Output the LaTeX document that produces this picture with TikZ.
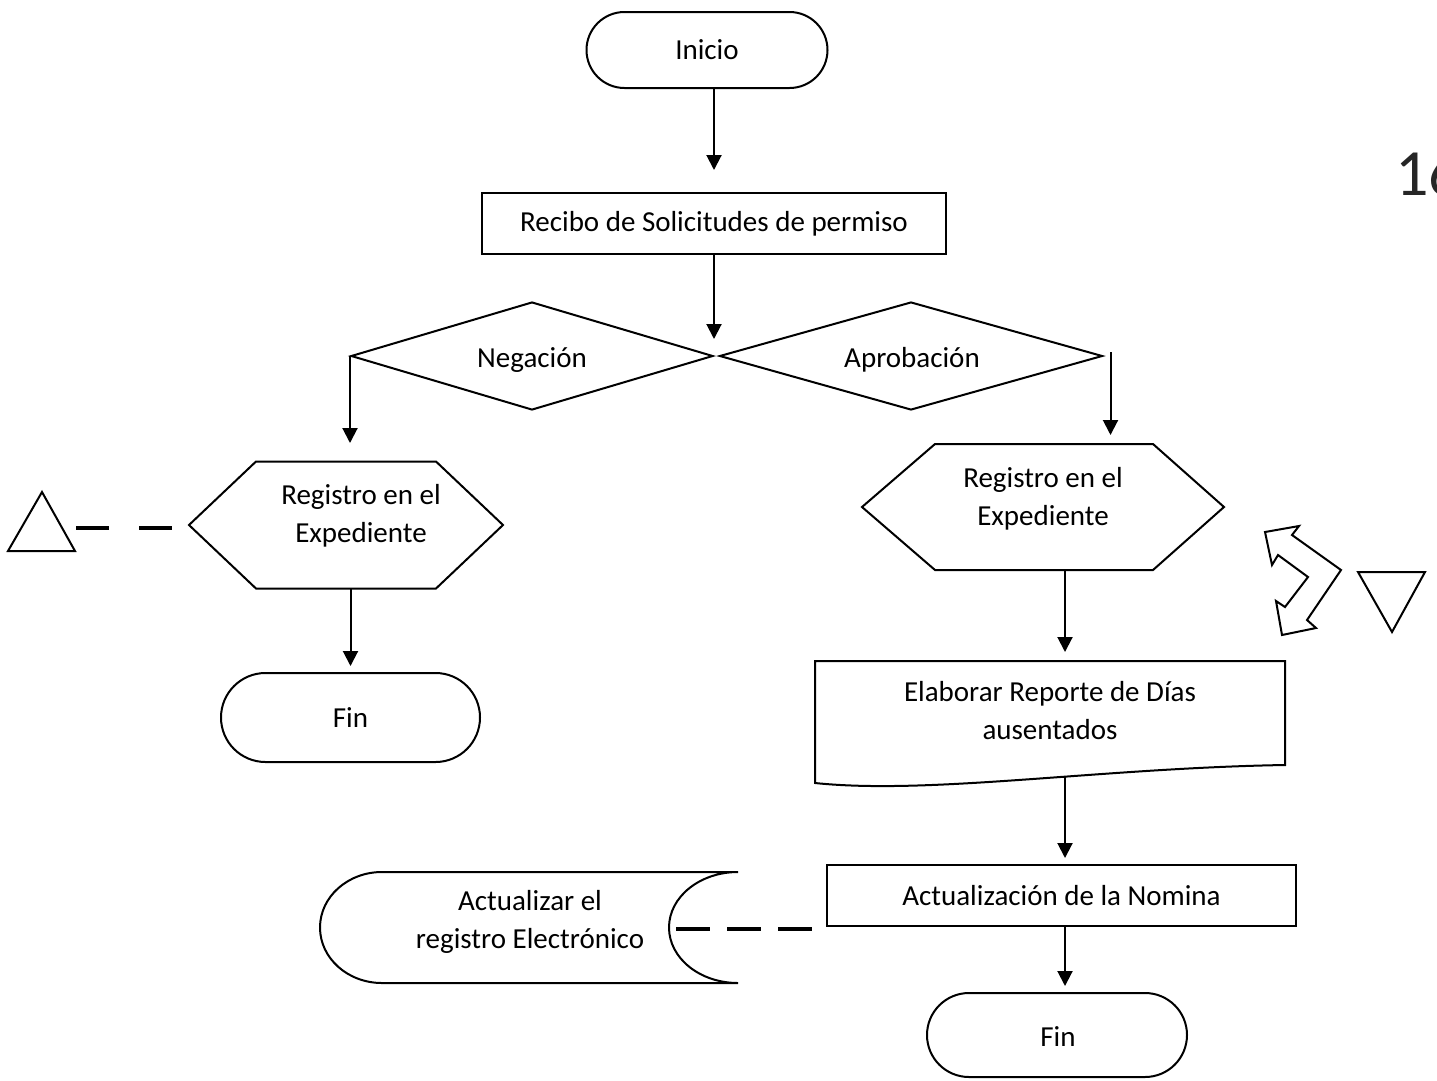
\documentclass[tikz,border=0pt]{standalone}
\usepackage{fontspec}
\setmainfont{Carlito}
\usetikzlibrary{shapes.misc,shapes.geometric,arrows.meta,calc}
\begin{document}
\begin{tikzpicture}[x=1pt,y=-1pt,
  line width=2pt, line join=miter,
  every node/.style={font=\fontsize{29}{38}\selectfont, align=center, inner sep=0pt},
  term/.style={draw, rounded rectangle},
  box/.style={draw, rectangle},
  dia/.style={draw, diamond, aspect=3.4},
  arr/.style={-{Triangle[width=15pt,length=15pt]}, line width=2pt},
  dsh/.style={line width=4pt, dash pattern=on 34pt off 17pt},
  dshL/.style={line width=4pt, dash pattern=on 33pt off 30pt}]
\useasboundingbox (0,0) rectangle (1437,1080);
\fill[white] (0,0) rectangle (1437,1080);

% nodes
\node[term, minimum width=241pt, minimum height=76pt] (inicio) at (707,50) {Inicio};
\node[box, minimum width=464pt, minimum height=61pt] (recibo) at (714,223.5) {Recibo de Solicitudes de permiso};
\node[dia, minimum width=362pt, minimum height=108pt] (neg) at (532,356) {};
\node (negt) at (532,360) {Negación};
\node[dia, minimum width=383pt, minimum height=108pt] (apr) at (911,356) {};
\node (aprt) at (912,360) {Aprobación};

% left hexagon
\node[minimum width=312pt, minimum height=125pt] (hexL) at (346,525) {};
\draw (hexL.west) -- ($(hexL.north west)+(67,0)$) -- ($(hexL.north east)+(-67,0)$) -- (hexL.east)
  -- ($(hexL.south east)+(-67,0)$) -- ($(hexL.south west)+(67,0)$) -- cycle;
\node (hexLt) at (361,516) {Registro en el\\Expediente};

% right hexagon
\node[minimum width=360pt, minimum height=124pt] (hexR) at (1043,507) {};
\draw (hexR.west) -- ($(hexR.north west)+(73,0)$) -- ($(hexR.north east)+(-71,0)$) -- (hexR.east)
  -- ($(hexR.south east)+(-71,0)$) -- ($(hexR.south west)+(73,0)$) -- cycle;
\node (hexRt) at (1043,499) {Registro en el\\Expediente};

\node[term, minimum width=259pt, minimum height=89pt] (finL) at (350.5,717.5) {Fin};

% document shape
\node[minimum width=468pt, minimum height=120pt] (doc) at (1050,722) {};
\draw (doc.north west) -- (doc.north east) -- ($(doc.south east)+(0,-18)$)
  .. controls (1100,768) and (930,795) .. (doc.south west) -- cycle;
\node (doct) at (1050,711) {Elaborar Reporte de Días\\ausentados};

\node[box, minimum width=469pt, minimum height=61pt] (nom) at (1061.5,895.5) {Actualización de la Nomina};

% stored data shape
\node[minimum width=418pt, minimum height=111pt] (store) at (529,927.5) {};
\draw (382,872) -- (738,872)
  .. controls (699.9,872) and (669,896.8) .. (669,927.5)
  .. controls (669,958.2) and (699.9,983) .. (738,983)
  -- (382,983)
  .. controls (347.8,983) and (320,958.2) .. (320,927.5)
  .. controls (320,896.8) and (347.8,872) .. (382,872) -- cycle;
\node (storet) at (530,922) {Actualizar el\\registro Electrónico};

\node[term, minimum width=260pt, minimum height=84pt] (finR) at (1057,1035) {};
\node (finRt) at (1058,1037) {Fin};

% side symbols
\draw (8,551) -- (75,551) -- (42,492) -- cycle;
\coordinate (triL) at (76,528);
\draw (1358,572) -- (1425,572) -- (1392,632) -- cycle;
\draw (1265,532) -- (1299,526) -- (1292,535) -- (1341,570) -- (1307,620) -- (1316,628)
  -- (1282,635) -- (1276,601) -- (1285,607) -- (1308,577) -- (1278,555) -- (1272,565) -- cycle;

\node[anchor=base west, font=\fontsize{66}{66}\selectfont, text=black!85] (num) at (1394,195) {16};

% connectors
\coordinate (axR) at (1065,0);
\draw[arr, shorten >=22pt] (inicio.south -| recibo.north) -- (recibo.north);
\draw[arr] (recibo.south) -- ++(0,84);
\draw[arr] (neg.west) -- ++(0,87);
\draw[arr] ($(apr.east)+(7,-4)$) -- ++(0,83);
\draw[arr, shorten >=6pt] (hexL.south -| finL.north) -- (finL.north);
\draw[arr, shorten >=9pt] (hexR.south -| axR) -- (doc.north -| axR);
\draw[arr, shorten >=6pt] ($(doc.south -| axR)+(0,-7)$) -- (nom.north -| axR);
\draw[arr, shorten >=6pt] (nom.south -| axR) -- (finR.north -| axR);
\draw[dshL] (triL) -- ($(hexL.west)+(-16,3)$);
\coordinate (sE) at (676,929);
\draw[dsh] (sE) -- ($(sE -| nom.west)+(-13,0)$);
\end{tikzpicture}
\end{document}
